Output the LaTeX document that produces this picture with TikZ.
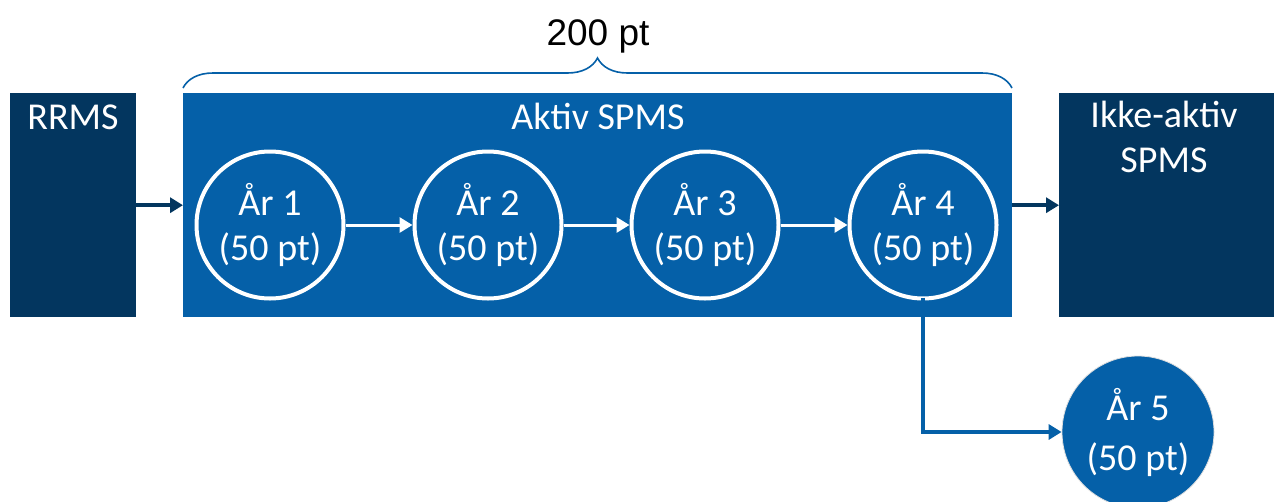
\documentclass[tikz,border=0pt]{standalone}
\usepackage{fontspec}
\setmainfont{Carlito}
\newfontfamily\arialfont{Liberation Sans}
\usetikzlibrary{arrows.meta,decorations.pathreplacing}
\definecolor{navy}{HTML}{03365F}
\definecolor{midblue}{HTML}{0560A8}
\begin{document}
\begin{tikzpicture}[x=1pt,y=-1pt,
  phase/.style={rectangle, inner sep=0pt, anchor=north west, minimum height=224pt},
  title/.style={text=white, inner sep=0pt, font=\fontsize{38}{45}\selectfont, align=center},
  year/.style={circle, draw=white, line width=4pt, minimum size=147pt, inner sep=0pt,
    text=white, align=center, font=\fontsize{38}{45}\selectfont},
  flow/.style={line width=3.5pt, -{Triangle[length=13pt,width=15pt]}},
]
\useasboundingbox (0,0) rectangle (1274,501);

% disease phases
\node[phase, fill=navy, minimum width=126pt] (rrms) at (10,93) {};
\node[phase, fill=midblue, minimum width=829pt] (aktiv) at (183,93) {};
\node[phase, fill=navy, minimum width=215pt] (ikke) at (1059,93) {};

\node[title, anchor=base] (rrmsT) at (73,129) {RRMS};
\node[title, anchor=base] (aktivT) at (598,129) {Aktiv SPMS};
\node[title, anchor=north] (ikkeT) at (1164,101) {Ikke-aktiv\\SPMS};

% span of the active phase
\draw[midblue, line width=1.6pt, decorate, decoration={brace, amplitude=30pt}]
  (aktiv.north west) ++(0,-5) coordinate (bl) (1012,88) coordinate (br)
  (bl) -- (br);
\node[anchor=base, inner sep=0pt, font=\arialfont\fontsize{37}{40}\selectfont] (span) at (598,45) {200 pt};

% yearly steps
\node[year] (y1) at (270,225) {År 1\\(50 pt)};
\node[year] (y2) at (488,225) {År 2\\(50 pt)};
\node[year] (y3) at (705,225) {År 3\\(50 pt)};
\node[year] (y4) at (923,225) {År 4\\(50 pt)};
\node[circle, fill=midblue, draw=gray!25, line width=0.8pt, minimum size=152pt, inner sep=0pt,
  text=white, align=center, font=\fontsize{38}{50}\selectfont] (y5) at (1138,432) {År 5\\(50 pt)};

\draw[flow, navy] (rrms.east) -- (aktiv.west);
\draw[flow, navy] (aktiv.east) -- (ikke.west);
\draw[flow, white, line width=3pt] (y1) -- (y2);
\draw[flow, white, line width=3pt] (y2) -- (y3);
\draw[flow, white, line width=3pt] (y3) -- (y4);
\draw[flow, midblue] ([yshift=3pt]y4.south) |- (y5.west);
\end{tikzpicture}
\end{document}
